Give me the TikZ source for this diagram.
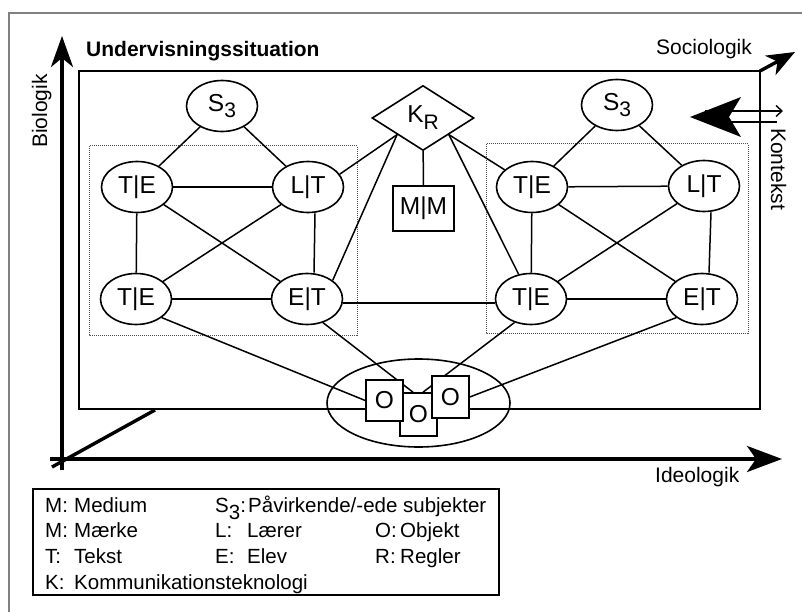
\documentclass[tikz,border=0pt]{standalone}
\usepackage{fontspec}
\setmainfont{Liberation Sans}
\usetikzlibrary{arrows.meta,shapes.geometric,calc}
\pgfdeclarelayer{back}
\pgfdeclarelayer{edges}
\pgfsetlayers{back,edges,main}
\begin{document}
\begin{tikzpicture}[x=1pt,y=-1pt,
  ell/.style={ellipse,draw,line width=1.6pt,fill=white,minimum width=71pt,minimum height=51pt,inner sep=0pt,font=\fontsize{24.5}{24.5}\selectfont},
  obox/.style={rectangle,draw,line width=1.6pt,fill=white,minimum width=37pt,minimum height=42pt,inner sep=0pt,font=\fontsize{24.5}{24.5}\selectfont},
  conn/.style={line width=1.5pt},
  txt/.style={font=\fontsize{20.5}{20.5}\selectfont,inner sep=0pt,anchor=base west},
  axlbl/.style={font=\fontsize{21}{21}\selectfont,inner sep=0pt,anchor=base west},
  axisline/.style={line width=3.4pt},
  dotbox/.style={densely dotted,line width=1pt,black!70},
]
\useasboundingbox (0,0) rectangle (802,612);
\draw[gray,line width=2pt] (9,620) -- (9,13) -- (810,13);

\begin{pgfonlayer}{back}
\draw[axisline] (52,467) -- (155,410);
\draw[axisline,-{Stealth[length=31pt,width=22pt,inset=9pt]}] (62,470) -- (62,36);
\draw[axisline,-{Stealth[length=35pt,width=26pt,inset=9pt]}] (50,459) -- (782,459);
\draw[axisline,-{Stealth[length=28pt,width=22pt,inset=8pt]}] (760,71) -- (795,52);
\draw[line width=1.8pt,fill=white] (79,71) rectangle (760,409);
\draw[dotbox] (89,146) rectangle (357,335);
\draw[dotbox] (486,144) rectangle (748,333);
\end{pgfonlayer}

% labels
\node[axlbl,font=\bfseries\fontsize{21}{21}\selectfont] (title) at (86,57) {Undervisningssituation};
\node[axlbl] (soc) at (656,55) {Sociologik};
\node[axlbl] (ideo) at (655,482) {Ideologik};
\node[axlbl,rotate=90] (bio) at (47,148) {Biologik};
\node[axlbl,rotate=-90] (kon) at (771,128) {Kontekst};

% Kontekst arrows
\fill (690,117) -- (741,97) -- (729,117) -- (741,137) -- cycle;
\draw[line width=1.4pt,-{Straight Barb[length=6pt,width=11pt]}] (705,111) -- (783,111);
\draw[line width=1.4pt] (705,122) -- (777,122);

% nodes left
\node[ell] (S3L) at (222,106) {S\raisebox{-6pt}{\fontsize{21}{21}\selectfont 3}};
\node[ell] (TE1) at (137,187) {T|E};
\node[ell] (LT1) at (308,187) {L|T};
\node[ell] (TE1b) at (136,299) {T|E};
\node[ell] (ET1) at (307,299) {E|T};
% nodes right
\node[ell] (S3R) at (617,105) {S\raisebox{-6pt}{\fontsize{21}{21}\selectfont 3}};
\node[ell] (TE2) at (532,187) {T|E};
\node[ell] (LT2) at (704,186) {L|T};
\node[ell] (TE2b) at (531,299) {T|E};
\node[ell] (ET2) at (702,299) {E|T};
% center
\node[diamond,draw,line width=1.6pt,fill=white,minimum width=102pt,minimum height=65pt,inner sep=0pt,font=\fontsize{24.5}{24.5}\selectfont] (K) at (423,118) {K\raisebox{-7pt}{\fontsize{21}{21}\selectfont R}};
\node[rectangle,draw,line width=1.6pt,fill=white,minimum width=61pt,minimum height=45pt,inner sep=0pt,font=\fontsize{24.5}{24.5}\selectfont] (MM) at (423.5,208.5) {M|M};
% objects
\node[ellipse,draw,line width=1.6pt,minimum width=183pt,minimum height=88pt,inner sep=0pt] (Ogrp) at (418.5,403) {};
\node[obox,minimum height=43pt] (Om) at (418.5,414.5) {O};
\node[obox,minimum height=41pt] (O1) at (384.5,400.5) {O};
\node[obox] (O3) at (450.5,397) {O};

\begin{pgfonlayer}{edges}
\draw[conn] (S3L) -- (TE1);
\draw[conn] (S3L) -- (LT1);
\draw[conn] (TE1) -- (LT1);
\draw[conn] (TE1) -- (TE1b);
\draw[conn] ([xshift=7pt]LT1.south) -- ([xshift=7pt]ET1.north);
\draw[conn] (TE1) -- (ET1);
\draw[conn] (LT1) -- (TE1b);
\draw[conn] (TE1b) -- (ET1);
\draw[conn] (S3R) -- (TE2);
\draw[conn] (S3R) -- (LT2);
\draw[conn] (TE2) -- (LT2);
\draw[conn] (TE2) -- (TE2b);
\draw[conn] ([xshift=7pt]LT2.south) -- ([xshift=7pt]ET2.north);
\draw[conn] (TE2) -- (ET2);
\draw[conn] (LT2) -- (TE2b);
\draw[conn] (TE2b) -- (ET2);
\draw[conn] ([yshift=-4pt]ET1.east) -- ([yshift=-4pt]TE2b.west);
\draw[conn] (K) -- (MM);
\draw[conn] (K.south west) -- (LT1.22);
\draw[conn] (K.south west) -- (ET1.north east);
\draw[conn] (K.south east) -- (TE2);
\draw[conn] (K.south east) -- (TE2b);
\draw[conn] (TE1b.south east) -- (O1.west);
\draw[conn] (ET1.-56) -- ([xshift=-5.5pt]Om.north);
\draw[conn] (TE2b.235) -- ([xshift=4.5pt]Om.north);
\draw[conn] (ET2.south west) -- (O3.east);
\end{pgfonlayer}

% legend
\draw[line width=1.5pt] (33,489) rectangle (499,595);
\node[txt] (a1) at (45,512) {M:};
\node[txt] (a2) at (74,512) {Medium};
\node[txt] (b1) at (45,537) {M:};
\node[txt] (b2) at (74,537) {Mærke};
\node[txt] (c1) at (45,563) {T:};
\node[txt] (c2) at (74,563) {Tekst};
\node[txt] (d1) at (45,589) {K:};
\node[txt] (d2) at (74,589) {Kommunikationsteknologi};
\node[txt] (e1) at (215,512) {S\raisebox{-7pt}{3}:};
\node[txt] (e2) at (248,512) {Påvirkende/-ede subjekter};
\node[txt] (f1) at (215,537) {L:};
\node[txt] (f2) at (247,537) {Lærer};
\node[txt] (g1) at (215,563) {E:};
\node[txt] (g2) at (247,563) {Elev};
\node[txt] (h1) at (375,537) {O:};
\node[txt] (h2) at (400,537) {Objekt};
\node[txt] (i1) at (375,563) {R:};
\node[txt] (i2) at (400,563) {Regler};
\end{tikzpicture}
\end{document}
